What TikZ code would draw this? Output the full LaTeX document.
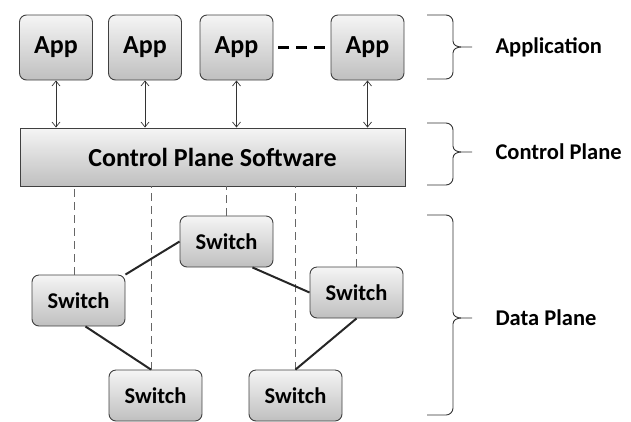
\documentclass[tikz,border=0pt]{standalone}
\usepackage{fontspec}
\setmainfont{Carlito}
\usetikzlibrary{arrows.meta}

\tikzset{
    box/.style={draw=black!75, line width=0.9pt, rounded corners=7pt, top color=gray!8, bottom color=gray!50, inner sep=0pt},
    appbox/.style={box, minimum width=73pt, minimum height=65pt, font=\fontsize{26}{30}\selectfont\bfseries},
    switchbox/.style={box, minimum width=93pt, minimum height=51pt, font=\fontsize{22.5}{26}\selectfont\bfseries},
    ctrlbox/.style={box, rounded corners=0pt, minimum width=385pt, minimum height=58pt, font=\fontsize{26}{30}\selectfont\bfseries},
    link/.style={line width=2pt, black!85},
    apilink/.style={black!80, line width=0.7pt, {Straight Barb[length=5pt,width=8pt]}-{Straight Barb[length=5pt,width=8pt]}},
    drop/.style={gray!80!black, line width=0.7pt, dash pattern=on 8pt off 5pt},
    bracestyle/.style={black!80, line width=0.9pt},
    planelabel/.style={anchor=west, font=\fontsize{22.5}{26}\selectfont\bfseries}
}

\newcommand{\planebrace}[5]{
    \draw[bracestyle] (427,#1) -- (446,#1) to[out=0,in=90] (453,#1+7) -- (453,#2-6)
        to[out=-90,in=180] (461,#2) -- (472,#2);
    \draw[bracestyle] (461,#2) to[out=180,in=90] (453,#2+6) -- (453,#3-7)
        to[out=-90,in=0] (446,#3) -- (427,#3);
    \node[planelabel] (#4) at (492,#2) {#5};
}

\begin{document}
\begin{tikzpicture}[x=1pt, y=-1pt]
    \useasboundingbox (0,0) rectangle (631,421);

    \node[appbox] (app1) at (56,47.5) {App};
    \node[appbox] (app2) at (145,47.5) {App};
    \node[appbox] (app3) at (236.5,47.5) {App};
    \node[appbox] (app4) at (367.5,47.5) {App};
    \draw[line width=3pt, dash pattern=on 11pt off 7pt, shorten <=5pt, shorten >=4pt] (app3) -- (app4);

    \node[ctrlbox] (ctrl) at (212.5,157) {Control Plane Software};

    \foreach \a in {app1,app2,app3,app4}
        \draw[apilink] (\a.south) -- (\a.south |- ctrl.north);

    \node[switchbox] (swT) at (226.5,241.5) {Switch};
    \node[switchbox] (swL) at (78.5,300.5) {Switch};
    \node[switchbox] (swR) at (356.5,292.5) {Switch};
    \node[switchbox] (swBL) at (155.5,395.5) {Switch};
    \node[switchbox] (swBR) at (295.5,395.5) {Switch};

    \draw[drop] (swL.100) -- (swL.100 |- ctrl.south);
    \draw[drop] (swBL.100) -- (swBL.100 |- ctrl.south);
    \draw[drop] (swT.north) -- (swT.north |- ctrl.south);
    \draw[drop] (swBR.north) -- (swBR.north |- ctrl.south);
    \draw[drop] (swR.north) -- (swR.north |- ctrl.south);

    \draw[link] (swL.north east) -- (swT.west);
    \draw[link] (swT.-45) -- (swR.west);
    \draw[link] (swL.-75) -- (swBL.100);
    \draw[link] (swR.south) -- (swBR.north);

    \planebrace{15}{47}{79}{lapp}{Application}
    \planebrace{123}{152}{185}{lctrl}{Control Plane}
    \planebrace{215}{318}{415}{ldata}{Data Plane}
\end{tikzpicture}
\end{document}
